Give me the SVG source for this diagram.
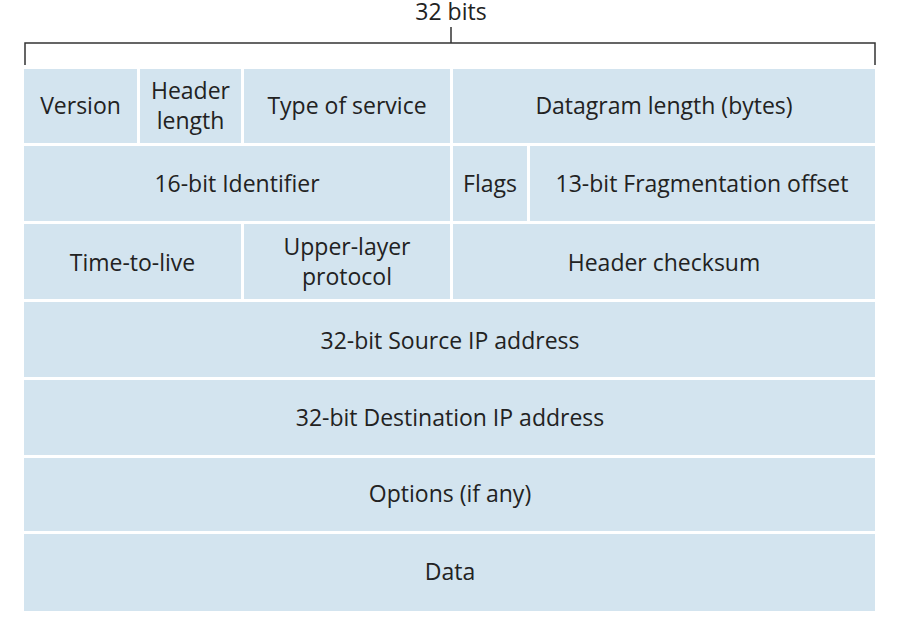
<svg xmlns="http://www.w3.org/2000/svg" width="900" height="623" viewBox="0 0 900 623">
<style>
.c{fill:#d3e4ef}
text{font-family:"Open Sans","Liberation Sans",sans-serif;font-size:23px;fill:#222;text-anchor:middle}
</style>
<rect width="900" height="623" fill="#fff"/>
<g id="connectors" fill="none" stroke="#333" stroke-width="1.5">
<path d="M25,65 V43 H875 V65 M451,43 V27"/>
</g>
<text x="451" y="20">32 bits</text>
<g id="version"><rect class="c" x="24" y="69" width="113" height="74"/><text x="80.5" y="114">Version</text></g>
<g id="hlen"><rect class="c" x="140" y="69" width="101" height="74"/><text x="190.5" y="99">Header</text><text x="190.5" y="129">length</text></g>
<g id="tos"><rect class="c" x="244" y="69" width="206" height="74"/><text x="347" y="114">Type of service</text></g>
<g id="dlen"><rect class="c" x="453" y="69" width="422" height="74"/><text x="664" y="114">Datagram length (bytes)</text></g>
<g id="ident"><rect class="c" x="24" y="146" width="426" height="75"/><text x="237" y="192">16-bit Identifier</text></g>
<g id="flags"><rect class="c" x="453" y="146" width="74" height="75"/><text x="490" y="192">Flags</text></g>
<g id="frag"><rect class="c" x="530" y="146" width="345" height="75"/><text x="702" y="192">13-bit Fragmentation offset</text></g>
<g id="ttl"><rect class="c" x="24" y="224" width="217" height="75"/><text x="132.5" y="271">Time-to-live</text></g>
<g id="proto"><rect class="c" x="244" y="224" width="206" height="75"/><text x="347" y="255">Upper-layer</text><text x="347" y="285">protocol</text></g>
<g id="cksum"><rect class="c" x="453" y="224" width="422" height="75"/><text x="664" y="271">Header checksum</text></g>
<g id="src"><rect class="c" x="24" y="302" width="851" height="75"/><text x="450" y="349">32-bit Source IP address</text></g>
<g id="dst"><rect class="c" x="24" y="380" width="851" height="75"/><text x="450" y="426">32-bit Destination IP address</text></g>
<g id="opts"><rect class="c" x="24" y="458" width="851" height="73"/><text x="450" y="502">Options (if any)</text></g>
<g id="data"><rect class="c" x="24" y="534" width="851" height="77"/><text x="450" y="580">Data</text></g>
</svg>
